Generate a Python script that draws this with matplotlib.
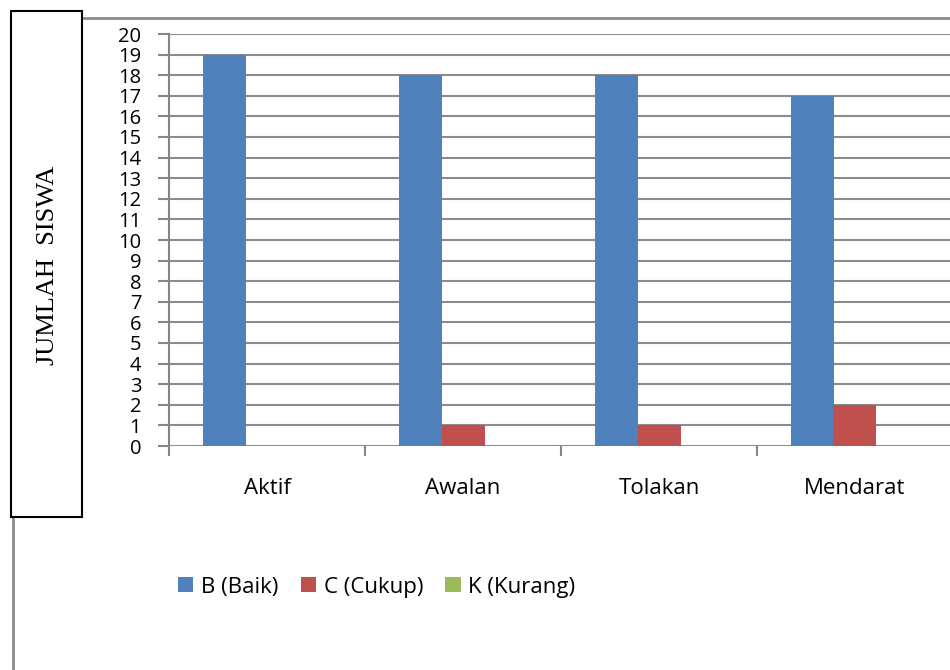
import numpy as np
import matplotlib.pyplot as plt
from matplotlib.patches import Rectangle
from matplotlib.lines import Line2D

categories = ['Aktif', 'Awalan', 'Tolakan', 'Mendarat']
baik = [19, 18, 18, 17]
cukup = [0, 1, 1, 2]
kurang = [0, 0, 0, 0]
series_names = ['B (Baik)', 'C (Cukup)', 'K (Kurang)']
colors = ['#4F81BD', '#C0504D', '#9BBB59']

W, H = 950, 670
fig = plt.figure(figsize=(W / 100, H / 100), dpi=100)
plt.rcParams['font.family'] = ['Open Sans', 'DejaVu Sans']

# axes: left 169px, right 953px, bottom 446px, top 34px
ax = fig.add_axes([169 / W, 1 - 446 / H, (953 - 169) / W, (446 - 34) / H])

x = np.arange(len(categories))
w = 43 / 196
handles = []
for i, (vals, name, c) in enumerate(zip([baik, cukup, kurang], series_names, colors)):
    b = ax.bar(x + (i - 1) * w, vals, w, color=c, label=name, zorder=3)
    handles.append(b)

ax.set_xlim(-0.5, len(categories) - 0.5)
ax.set_ylim(0, 20)
ax.set_yticks(range(0, 21))
ax.tick_params(axis='y', length=8, width=1.5, color='#868686', labelsize=14.5, pad=12)
ax.set_xticks(np.arange(-0.5, len(categories), 1.0))
ax.set_xticklabels([])
ax.set_xticks(x, minor=True)
ax.set_xticklabels(categories, minor=True, fontsize=16)
ax.tick_params(axis='x', which='major', length=7, width=1.5, color='#868686')
ax.tick_params(axis='x', which='minor', length=0, pad=23)
ax.grid(axis='y', color='#8c8c8c', linewidth=1.5, zorder=0)
for s in ['top', 'right', 'bottom']:
    ax.spines[s].set_visible(False)
ax.spines['left'].set_color('#868686')
ax.spines['left'].set_linewidth(1.5)

# y label box
fig.patches.append(Rectangle((11 / W, 1 - 517 / H), 71 / W, 506 / H,
                             transform=fig.transFigure, fill=False,
                             edgecolor='black', linewidth=1.5, zorder=5))
fig.text(48 / W, 1 - 265 / H, 'JUMLAH  SISWA', rotation=90, ha='center', va='center',
         fontsize=19, family=['Liberation Serif'])

# outer frame lines
fig.lines.append(Line2D([82 / W, 1], [1 - 18 / H, 1 - 18 / H], transform=fig.transFigure,
                        color='#8c8c8c', linewidth=2))
fig.lines.append(Line2D([13 / W, 13 / W], [1 - 517 / H, 0], transform=fig.transFigure,
                        color='#8c8c8c', linewidth=2))

fig.legend(handles=handles, labels=series_names, loc='center left',
           bbox_to_anchor=(165 / W, 1 - 587 / H), ncol=3, frameon=False,
           fontsize=16, handlelength=0.68, handleheight=0.68,
           handletextpad=0.35, columnspacing=1.0, borderpad=0.1)

fig.savefig('out.png', dpi=100)
